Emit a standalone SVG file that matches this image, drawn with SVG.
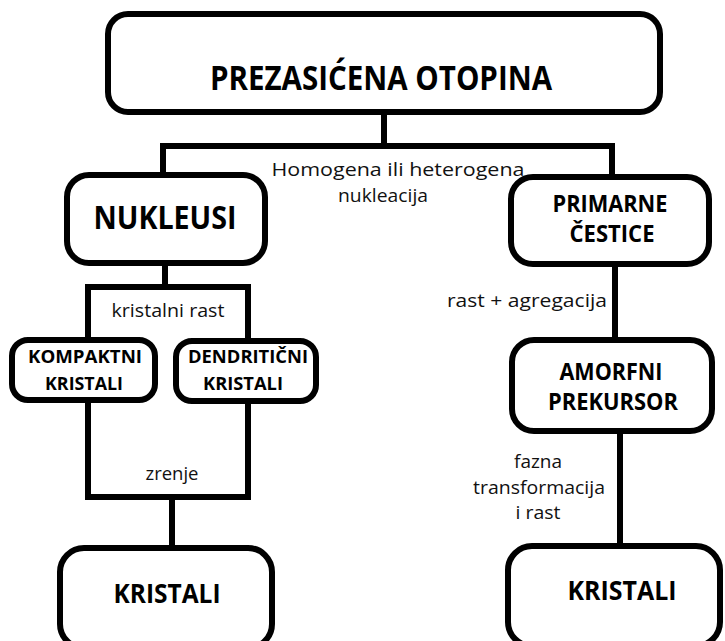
<svg xmlns="http://www.w3.org/2000/svg" width="725" height="641" viewBox="0 0 725 641">
<style>
.box{fill:#fff;stroke:#000;stroke-width:6}
.con{fill:none;stroke:#000;stroke-width:6;stroke-linejoin:miter}
.b{font-family:"Open Sans","Noto Sans","Liberation Sans",sans-serif;font-weight:700;fill:#000;text-anchor:middle}
.r{font-family:"Open Sans","Noto Sans","Liberation Sans",sans-serif;font-weight:400;fill:#111;text-anchor:middle;font-size:18px}
</style>
<rect width="725" height="641" fill="#fff"/>
<g id="connectors">
<path class="con" d="M384,112 V146"/>
<path class="con" d="M163,175 V146 H612 V177"/>
<path class="con" d="M165,263 V287"/>
<path class="con" d="M88,340 V287 H248 V341"/>
<path class="con" d="M88,400 V497 H248 V401"/>
<path class="con" d="M172,497 V548"/>
<path class="con" d="M615,264 V340"/>
<path class="con" d="M620,431 V546"/>
</g>
<g id="labels">
<text class="r" x="398" y="176" textLength="253" lengthAdjust="spacingAndGlyphs">Homogena ili heterogena</text>
<text class="r" x="383" y="202" textLength="90" lengthAdjust="spacingAndGlyphs">nukleacija</text>
<text class="r" x="168" y="317" textLength="113" lengthAdjust="spacingAndGlyphs">kristalni rast</text>
<text class="r" x="172" y="480" textLength="53" lengthAdjust="spacingAndGlyphs">zrenje</text>
<text class="r" x="527" y="307" textLength="160" lengthAdjust="spacingAndGlyphs">rast + agregacija</text>
<text class="r" x="538" y="468" textLength="48" lengthAdjust="spacingAndGlyphs">fazna</text>
<text class="r" x="539" y="494" textLength="132" lengthAdjust="spacingAndGlyphs">transformacija</text>
<text class="r" x="538" y="519" textLength="45" lengthAdjust="spacingAndGlyphs">i rast</text>
</g>
<g id="prezasicena">
<rect class="box" x="108" y="14" width="552" height="98" rx="20"/>
<text class="b" x="381" y="90" font-size="34" textLength="342" lengthAdjust="spacingAndGlyphs">PREZASIĆENA OTOPINA</text>
</g>
<g id="nukleusi">
<rect class="box" x="67" y="175" width="198" height="88" rx="22"/>
<text class="b" x="165" y="229" font-size="32" textLength="143" lengthAdjust="spacingAndGlyphs">NUKLEUSI</text>
</g>
<g id="primarne">
<rect class="box" x="511" y="177" width="198" height="87" rx="22"/>
<text class="b" x="610" y="212" font-size="23" textLength="115" lengthAdjust="spacingAndGlyphs">PRIMARNE</text>
<text class="b" x="612" y="242" font-size="23" textLength="85" lengthAdjust="spacingAndGlyphs">ČESTICE</text>
</g>
<g id="kompaktni">
<rect class="box" x="12" y="340" width="143" height="60" rx="16"/>
<text class="b" x="85" y="363" font-size="17" textLength="114" lengthAdjust="spacingAndGlyphs">KOMPAKTNI</text>
<text class="b" x="84" y="390" font-size="17" textLength="78" lengthAdjust="spacingAndGlyphs">KRISTALI</text>
</g>
<g id="dendriticni">
<rect class="box" x="176" y="341" width="140" height="60" rx="16"/>
<text class="b" x="248" y="363" font-size="17" textLength="120" lengthAdjust="spacingAndGlyphs">DENDRITIČNI</text>
<text class="b" x="243" y="390" font-size="17" textLength="80" lengthAdjust="spacingAndGlyphs">KRISTALI</text>
</g>
<g id="amorfni">
<rect class="box" x="512" y="340" width="200" height="91" rx="22"/>
<text class="b" x="611" y="380" font-size="23" textLength="103" lengthAdjust="spacingAndGlyphs">AMORFNI</text>
<text class="b" x="613" y="410" font-size="23" textLength="130" lengthAdjust="spacingAndGlyphs">PREKURSOR</text>
</g>
<g id="kristali-left">
<rect class="box" x="60" y="548" width="212" height="100" rx="24"/>
<text class="b" x="167" y="603" font-size="26" textLength="107" lengthAdjust="spacingAndGlyphs">KRISTALI</text>
</g>
<g id="kristali-right">
<rect class="box" x="508" y="546" width="212" height="100" rx="24"/>
<text class="b" x="622" y="600" font-size="26" textLength="109" lengthAdjust="spacingAndGlyphs">KRISTALI</text>
</g>
</svg>
